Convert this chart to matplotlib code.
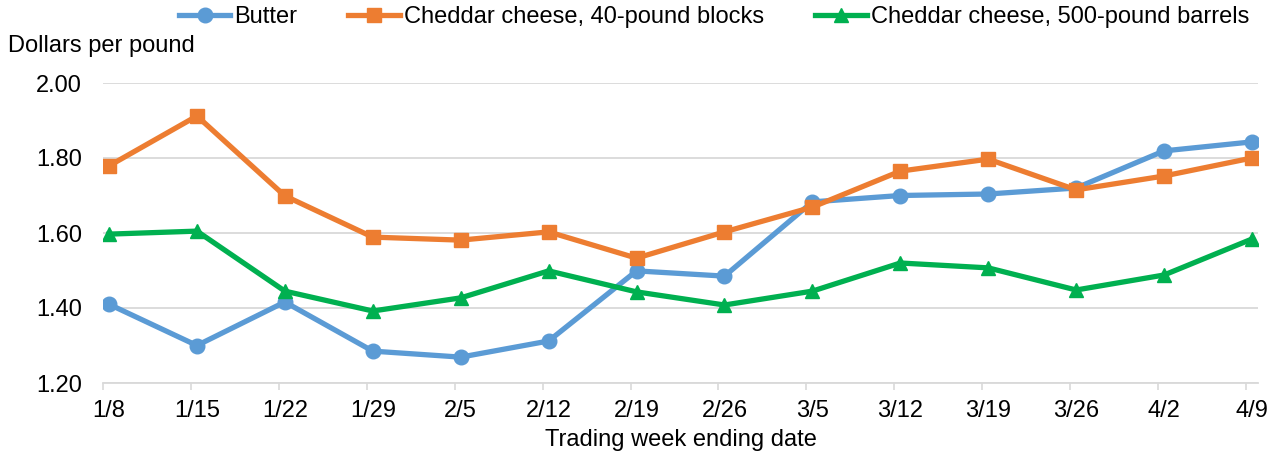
import matplotlib.pyplot as plt
import numpy as np

plt.rcParams['font.family'] = ['Liberation Sans', 'DejaVu Sans']

weeks = ['1/8', '1/15', '1/22', '1/29', '2/5', '2/12', '2/19', '2/26',
         '3/5', '3/12', '3/19', '3/26', '4/2', '4/9']
butter = [1.41, 1.30, 1.416, 1.285, 1.269, 1.312, 1.499, 1.485,
          1.683, 1.70, 1.704, 1.72, 1.819, 1.843]
blocks = [1.779, 1.912, 1.699, 1.589, 1.581, 1.603, 1.533, 1.603,
          1.669, 1.765, 1.797, 1.715, 1.752, 1.80]
barrels = [1.597, 1.605, 1.445, 1.392, 1.427, 1.499, 1.443, 1.408,
           1.445, 1.52, 1.507, 1.448, 1.488, 1.584]

x = np.arange(len(weeks))
grey = '#D9D9D9'
fs = 17

fig = plt.figure(figsize=(12.75, 4.59), dpi=100)
ax = fig.add_axes([103 / 1275, 1 - 383 / 459, 1155 / 1275, 300 / 459])

ax.plot(x, butter, color='#5B9BD5', lw=3.8, marker='o', ms=10.5, label='Butter')
ax.plot(x, blocks, color='#ED7D31', lw=3.8, marker='s', ms=9.5,
        label='Cheddar cheese, 40-pound blocks')
ax.plot(x, barrels, color='#00B050', lw=3.8, marker='^', ms=10.5,
        label='Cheddar cheese, 500-pound barrels')

off = 6 / 87.9
ax.set_xlim(-off, 13 + off)
ax.set_ylim(1.2, 2.0)
ax.set_yticks([1.2, 1.4, 1.6, 1.8, 2.0])
ax.set_yticklabels(['%.2f' % v for v in [1.2, 1.4, 1.6, 1.8, 2.0]])
ax.set_xticks(x)
ax.set_xticklabels(weeks)
ax.set_xticks(x - off, minor=True)
ax.tick_params(axis='x', which='major', length=0, pad=12, labelsize=fs)
ax.tick_params(axis='x', which='minor', length=5, width=1.2, color=grey, direction='out')
ax.tick_params(axis='y', length=0, pad=15, labelsize=fs)
ax.grid(axis='y', color=grey, lw=1.3)
ax.set_axisbelow(True)
for s in ['top', 'right', 'left']:
    ax.spines[s].set_visible(False)
ax.spines['bottom'].set_color(grey)
ax.spines['bottom'].set_linewidth(1.3)

ax.set_xlabel('Trading week ending date', fontsize=fs, labelpad=5)
fig.text(8 / 1275, 1 - 46 / 459, 'Dollars per pound', fontsize=fs, va='center', ha='left')

fig.legend(loc='center', bbox_to_anchor=(714 / 1275, 1 - 17 / 459), ncol=3,
           frameon=False, fontsize=fs, handlelength=2.2, handletextpad=0.17,
           columnspacing=2.15, borderpad=0, borderaxespad=0)

plt.savefig('out.png', dpi=100)
